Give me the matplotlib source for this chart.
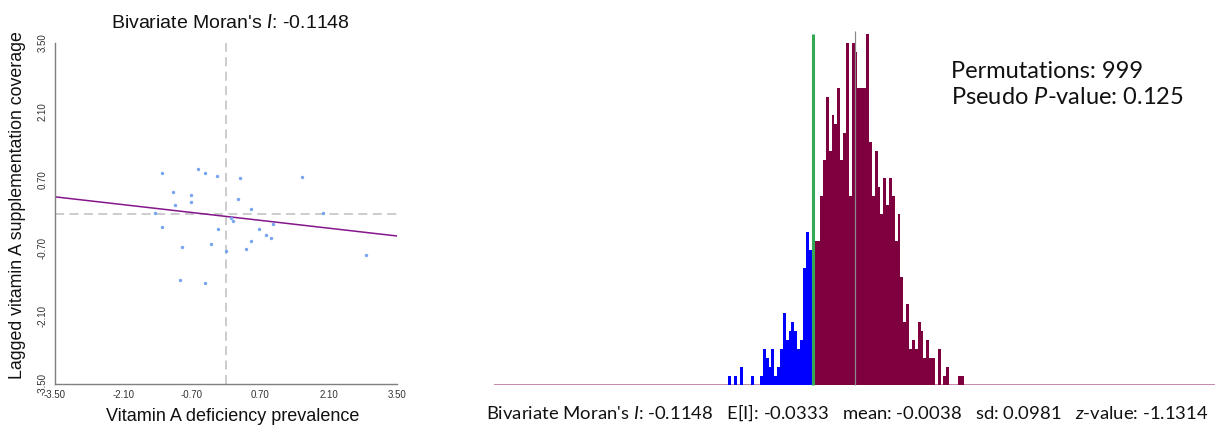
import matplotlib
matplotlib.use("Agg")
import matplotlib.pyplot as plt
import numpy as np

# ---------------- data ----------------
# standardized vitamin A deficiency prevalence (x) vs lagged VAS coverage (y)
x_values = [-1.31, -0.58, -0.42, -0.18, 0.29, 1.55, -1.09, -0.72, -0.72, -1.04,
            0.24, 0.52, -1.45, 1.99, -1.31, 0.10, 0.14, -0.16, 0.67, 0.96,
            0.82, 0.93, 0.52, -0.31, -0.91, 0.40, 0.00, 2.86, -0.95, -0.42]
y_values = [0.84, 0.91, 0.84, 0.78, 0.72, 0.74, 0.44, 0.37, 0.24, 0.17,
            0.30, 0.10, 0.02, 0.02, -0.27, -0.10, -0.15, -0.31, -0.31, -0.22,
            -0.45, -0.50, -0.56, -0.62, -0.69, -0.72, -0.78, -0.86, -1.36, -1.42]
tick_values = [-3.50, -2.10, -0.70, 0.70, 2.10, 3.50]

moran_I = -0.1148
reg_intercept = -0.06
expected_I = -0.0333
perm_mean = -0.0038
perm_sd = 0.0981
z_value = -1.1314
permutations = 999
pseudo_p = 0.125

# reference distribution of permuted Moran's I (counts per bin)
hist_start = -0.3349
hist_bin_width = 0.00749
hist_counts = [1, 0, 1, 0, 2, 0, 0, 0, 1, 0, 0, 1, 4, 3, 2, 4, 1, 2, 4, 8,
               5, 6, 7, 6, 4, 5, 13, 17, 15, 11, 16, 16, 21, 25, 32, 26, 30, 29, 33, 25,
               28, 38, 21, 38, 37, 33, 33, 33, 39, 27, 21, 26, 22, 19, 23, 20, 23, 21, 16, 19,
               12, 7, 9, 4, 5, 4, 7, 6, 3, 5, 3, 3, 0, 4, 0, 1, 2, 0, 0, 0,
               1, 1]

# ---------------- style ----------------
plt.rcParams["mathtext.fontset"] = "custom"
plt.rcParams["mathtext.rm"] = "Lato"
plt.rcParams["mathtext.it"] = "Lato:italic"
plt.rcParams["mathtext.bf"] = "Lato:bold"

W, H = 1230, 429
fig = plt.figure(figsize=(W / 100, H / 100), dpi=100)

def fx(px):
    return px / W

def fy(py):
    return 1 - py / H

ARIAL = "Liberation Sans"
CAL = "Lato"

# ---------------- scatter ----------------
ax1 = fig.add_axes([fx(55), fy(384), fx(342), 341 / H])
ax1.set_xlim(-3.5, 3.5)
ax1.set_ylim(-3.5, 3.5)
ax1.axvline(0, color="#c8c8c8", lw=1.3, ls=(0, (5, 3)), zorder=1)
ax1.axhline(0, color="#c8c8c8", lw=1.3, ls=(0, (5, 3)), zorder=1)
ax1.scatter(x_values, y_values, s=6, color="#78a4f2", linewidths=0, zorder=3)
xs = np.array([-3.5, 3.5])
ax1.plot(xs, reg_intercept + moran_I * xs, color="#84158a", lw=1.1, zorder=2)

ax1.set_xticks(tick_values)
ax1.set_yticks(tick_values)
labels = ["%.2f" % v for v in tick_values]
ax1.set_xticklabels(labels, fontsize=7, family=ARIAL)
ax1.set_yticklabels(labels, fontsize=7, family=ARIAL, rotation=90, va="center")
ax1.tick_params(axis="both", length=0, colors="#333333")
ax1.tick_params(axis="x", pad=4)
ax1.tick_params(axis="y", pad=5)
for s in ("top", "right"):
    ax1.spines[s].set_visible(False)
for s in ("left", "bottom"):
    ax1.spines[s].set_color("#7f7f7f")
    ax1.spines[s].set_linewidth(1.0)

fig.text(fx(230), fy(27.5), r"Bivariate Moran's $\mathit{I}$: %.4f" % moran_I,
         ha="center", va="baseline", fontsize=14, family=ARIAL, color="#111111")
fig.text(fx(18), fy(205), "Lagged vitamin A supplementation coverage",
         rotation=90, ha="center", va="center", fontsize=12.8, family=ARIAL, color="#111111")
fig.text(fx(233), fy(421), "Vitamin A deficiency prevalence",
         ha="center", va="baseline", fontsize=13, family=ARIAL, color="#111111")

# ---------------- histogram ----------------
ax2 = fig.add_axes([fx(494), fy(385), fx(721), 351 / H])
ax2.set_xlim(-0.947, 0.936)
ax2.set_ylim(0, 39)
ax2.axis("off")
counts = np.array(hist_counts, dtype=float)
edges = hist_start + hist_bin_width * np.arange(len(counts) + 1)
is_low = edges[:-1] < moran_I
ax2.stairs(np.where(is_low, counts, 0), edges, fill=True, color="#0000ff", lw=0, zorder=2)
ax2.stairs(np.where(is_low, 0, counts), edges, fill=True, color="#7f003f", lw=0, zorder=2)
ax2.axhline(0, color="#c27fa4", lw=1.3, zorder=1)
ax2.vlines(perm_mean, 0, 39.3, color="#8a8a8a", lw=0.9, zorder=3, clip_on=False)
ax2.vlines(moran_I, 0, 39, color="#35a853", lw=2.2, zorder=4, clip_on=False)

fig.text(fx(951), fy(78.5), "Permutations: %d" % permutations,
         ha="left", va="baseline", fontsize=17, family=CAL, color="#111111")
fig.text(fx(951), fy(104), r"Pseudo $\mathit{P}$-value: %.3f" % pseudo_p,
         ha="left", va="baseline", fontsize=17, family=CAL, color="#111111")

bottom = (r"Bivariate Moran's $\mathit{I}$: %.4f   E[I]: %.4f   mean: %.4f   sd: %.4f   "
          r"$\mathit{z}$-value: %.4f") % (moran_I, expected_I, perm_mean, perm_sd, z_value)
fig.text(fx(847.5), fy(419), bottom, ha="center", va="baseline",
         fontsize=13.3, family=CAL, color="#111111")

fig.savefig("out.png", dpi=100)
